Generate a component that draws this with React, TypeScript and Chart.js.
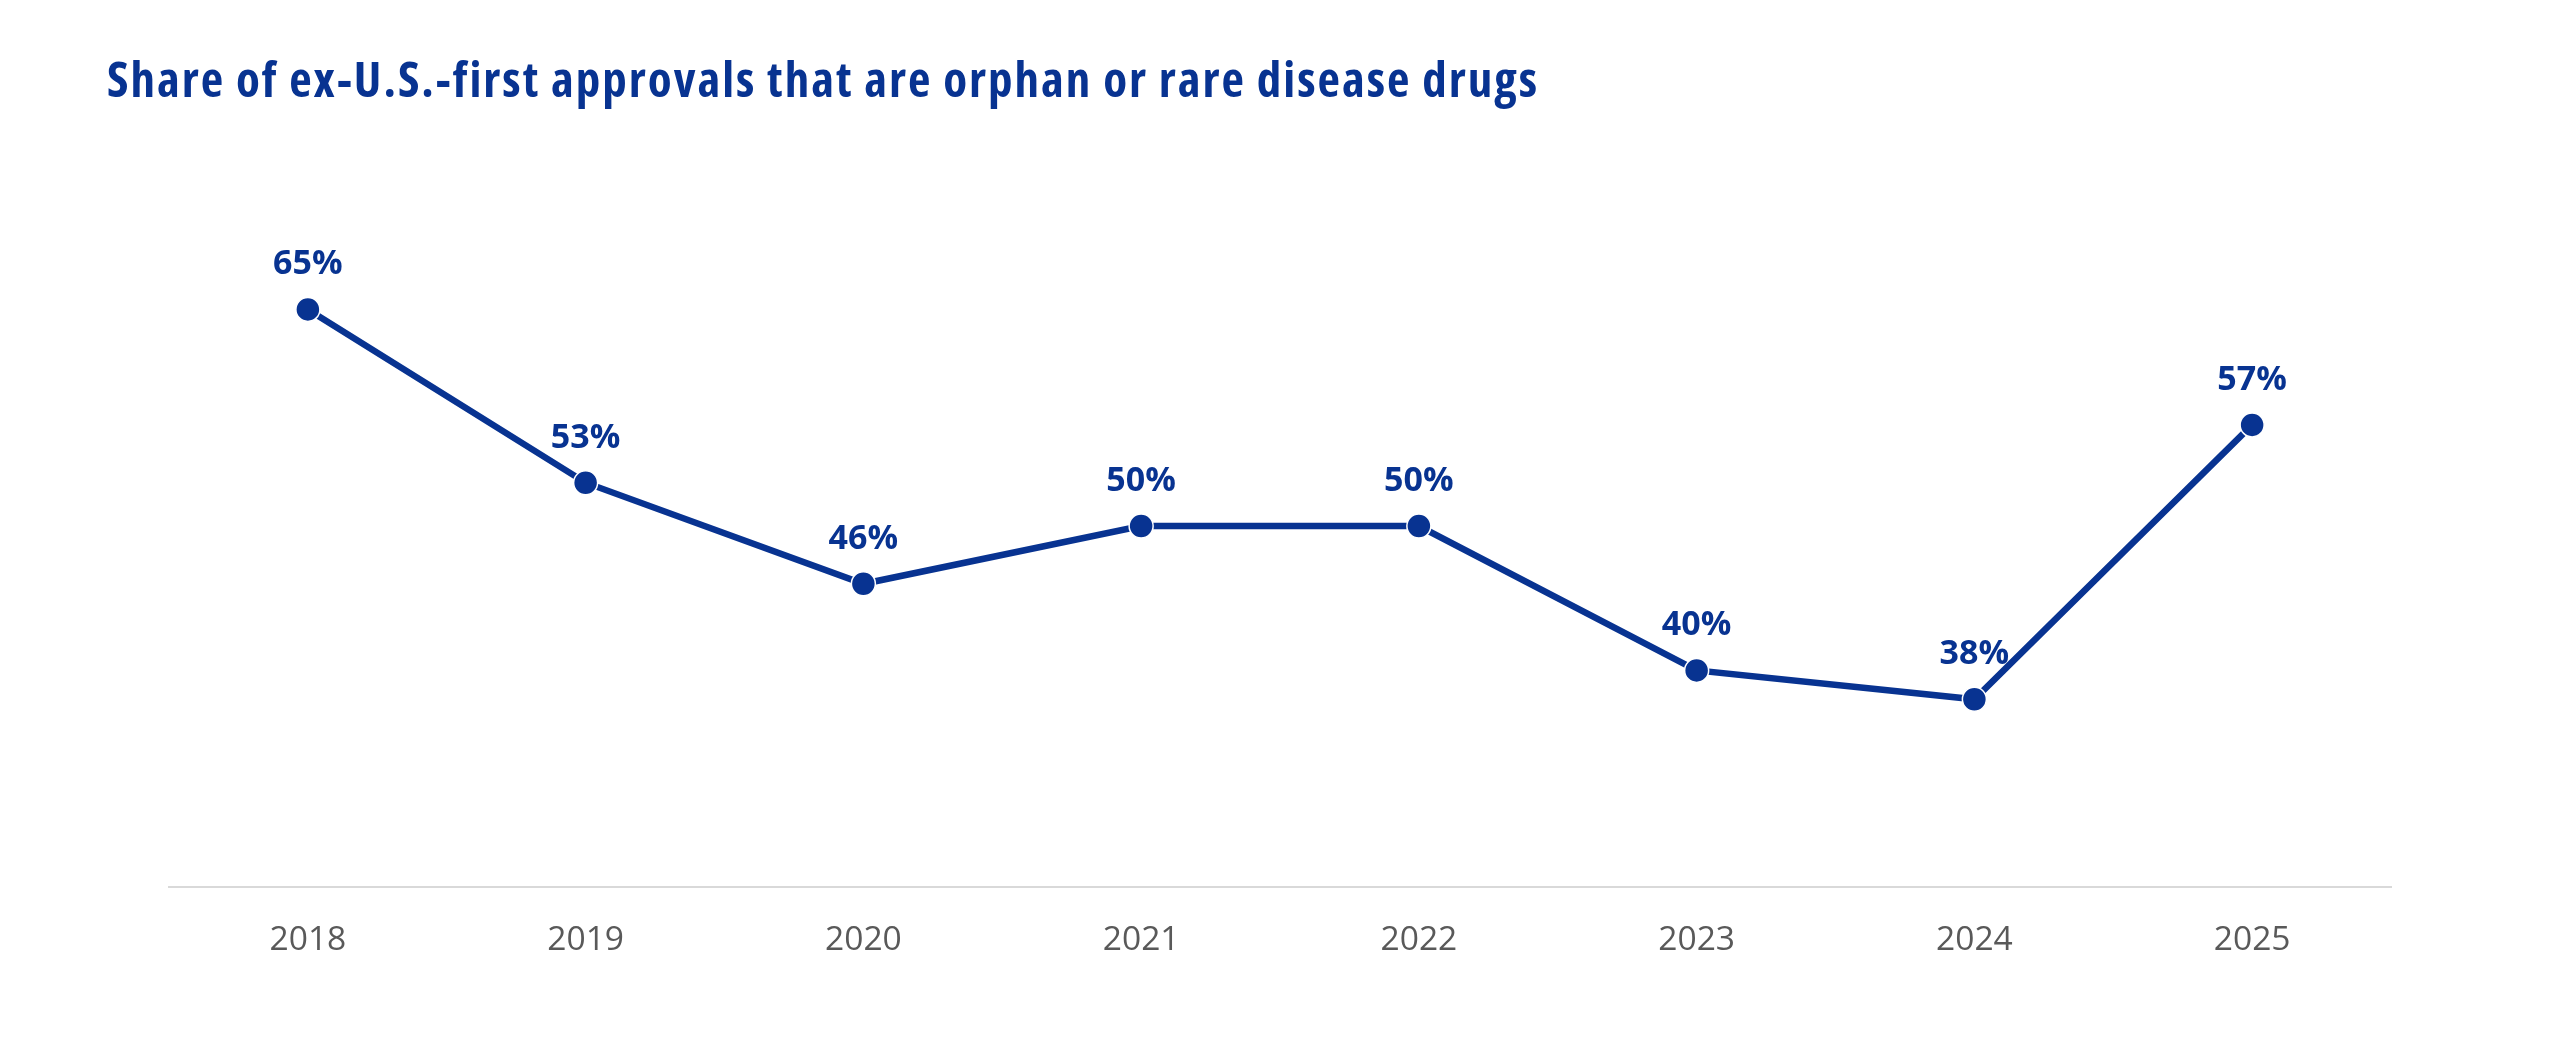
import React, { useEffect, useRef } from 'react';
import { Chart, registerables, Plugin } from 'chart.js';

Chart.register(...registerables);

// ============================================
// DATA
// ============================================
const years: string[] = ['2018', '2019', '2020', '2021', '2022', '2023', '2024', '2025'];
const orphanShare: number[] = [65, 53, 46, 50, 50, 40, 38, 57];

const BLUE = '#083391';
const GREY_TEXT = '#595959';
const AXIS_LINE = '#d9d9d9';

// ============================================
// VALUE LABELS PLUGIN
// ============================================
const valueLabels: Plugin<'line'> = {
  id: 'valueLabels',
  afterDatasetsDraw(chart) {
    const { ctx } = chart;
    const meta = chart.getDatasetMeta(0);
    const values = chart.data.datasets[0].data as number[];
    ctx.save();
    ctx.font = 'bold 34px "Open Sans"';
    ctx.fillStyle = BLUE;
    ctx.textAlign = 'center';
    ctx.textBaseline = 'alphabetic';
    meta.data.forEach((pt, i) => {
      ctx.fillText(`${values[i]}%`, pt.x, pt.y - 35);
    });
    ctx.restore();
  },
};

// ============================================
// CHART
// ============================================
const ShareChart: React.FC = () => {
  const canvasRef = useRef<HTMLCanvasElement>(null);

  useEffect(() => {
    if (!canvasRef.current) return;
    const chart = new Chart(canvasRef.current, {
      type: 'line',
      data: {
        labels: years,
        datasets: [
          {
            data: orphanShare,
            borderColor: BLUE,
            borderWidth: 6.5,
            pointRadius: 12,
            pointBackgroundColor: BLUE,
            pointBorderColor: '#ffffff',
            pointBorderWidth: 1.5,
            tension: 0,
            clip: false,
          },
        ],
      },
      options: {
        responsive: true,
        maintainAspectRatio: false,
        animation: false,
        layout: { padding: { left: 169, right: 169, top: 165, bottom: 41 } },
        plugins: {
          legend: { display: false },
          tooltip: { enabled: false },
        },
        scales: {
          x: {
            offset: true,
            grid: { display: false, drawTicks: false },
            border: { display: true, color: AXIS_LINE, width: 2 },
            ticks: {
              color: GREY_TEXT,
              padding: 33,
              font: { family: '"Open Sans"', size: 33.6 },
            },
            afterFit: (scale) => {
              scale.height = 120;
            },
          },
          y: {
            display: false,
            min: 25,
            max: 75,
          },
        },
      },
      plugins: [valueLabels],
    });
    return () => chart.destroy();
  }, []);

  return <canvas ref={canvasRef}></canvas>;
};

// ============================================
// MAIN
// ============================================
const App: React.FC = () => {
  useEffect(() => {
    document.body.style.margin = '0';
  }, []);

  return (
    <div style={{ position: 'relative', width: 2560, height: 1048, background: '#ffffff' }}>
      <div
        style={{
          position: 'absolute',
          left: 107,
          top: 53.8,
          fontFamily: '"Open Sans"',
          fontWeight: 700,
          fontSize: 49,
          lineHeight: 1,
          fontStretch: '75%',
          letterSpacing: 2,
          color: BLUE,
          whiteSpace: 'nowrap',
        }}
      >
        Share of ex-U.S.-first approvals that are orphan or rare disease drugs
      </div>
      <div style={{ position: 'absolute', left: 0, top: 0, width: 2560, height: 1048 }}>
        <ShareChart />
      </div>
    </div>
  );
};

export default App;
